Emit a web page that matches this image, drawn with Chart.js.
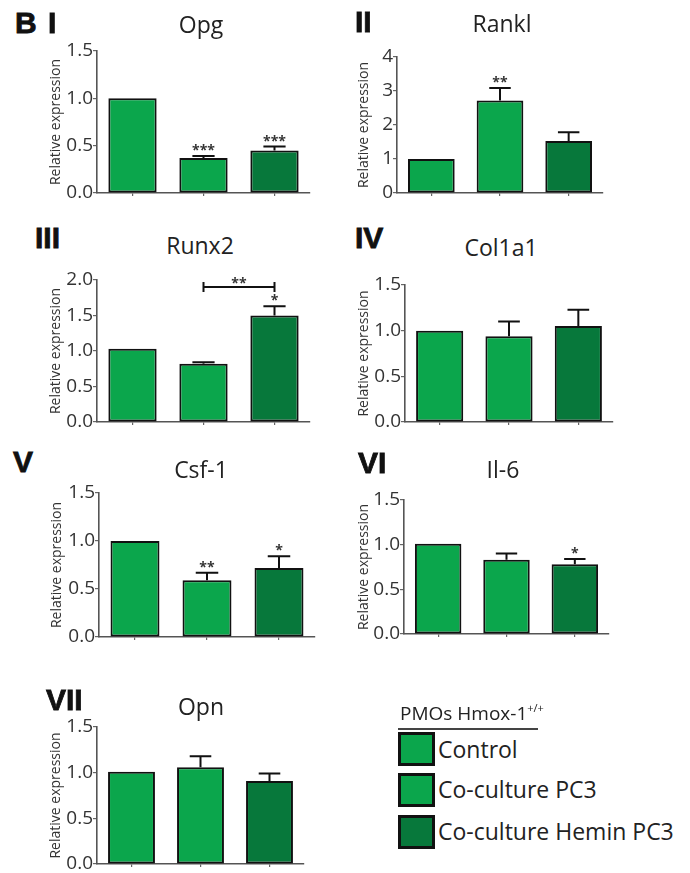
<!DOCTYPE html>
<html>
<head>
<meta charset="utf-8">
<script src="https://cdn.jsdelivr.net/npm/chart.js@4.4.1/dist/chart.umd.min.js"></script>
<style>
  html, body { margin: 0; padding: 0; background: #fff; }
  body { width: 690px; height: 873px; position: relative; overflow: hidden; }
  .panel { position: absolute; }
  .panel canvas { display: block; }
  .num { position: absolute; font-family: "Liberation Sans"; font-weight: bold; font-size: 30px;
         line-height: 1; color: #111; white-space: nowrap; -webkit-text-stroke: 0.8px #111; }
  .gene { position: absolute; font-family: "Open Sans"; font-size: 23px; line-height: 1;
          color: #222; width: 200px; text-align: center; white-space: nowrap; }
  .lg-title { position: absolute; font-family: "Open Sans"; font-size: 19px; line-height: 1;
              color: #222; white-space: nowrap; }
  .lg-title span { font-size: 11px; position: relative; top: -8px; }
  .lg-rule { position: absolute; height: 2px; background: #444; }
  .lg-box { position: absolute; width: 37px; height: 34px; box-sizing: border-box; border: 3px solid #111; }
  .lg-text { position: absolute; font-family: "Open Sans"; font-size: 23px; line-height: 1;
             color: #222; white-space: nowrap; }
</style>
</head>
<body>
<script>
// Groups and colours
const groups = ['Control', 'Co-culture PC3', 'Co-culture Hemin PC3'];
const barColors = ['#0ba64c', '#0ba64c', '#07783b'];

// Tick values for the y axes
const ticks15 = [0, 0.5, 1.0, 1.5];
const ticks20 = [0, 0.5, 1.0, 1.5, 2.0];
const ticks4 = [0, 1, 2, 3, 4];

// Relative expression (mean), error (SEM) and significance marks per gene
const opgValues = [1.00, 0.37, 0.45];
const opgErrors = [0, 0.02, 0.04];
const opgMarks = ['', '***', '***'];

const ranklValues = [1.00, 2.72, 1.53];
const ranklErrors = [0, 0.37, 0.26];
const ranklMarks = ['', '**', ''];

const runx2Values = [1.03, 0.82, 1.50];
const runx2Errors = [0, 0.02, 0.13];
const runx2Marks = ['', '', '*'];
const runx2Bracket = { from: 1, to: 2, value: 1.9, mark: '**' };

const col1a1Values = [1.00, 0.94, 1.05];
const col1a1Errors = [0, 0.16, 0.18];
const col1a1Marks = ['', '', ''];

const csf1Values = [1.00, 0.59, 0.72];
const csf1Errors = [0, 0.08, 0.12];
const csf1Marks = ['', '**', '*'];

const il6Values = [1.01, 0.83, 0.78];
const il6Errors = [0, 0.07, 0.06];
const il6Marks = ['', '', '*'];

const opnValues = [1.01, 1.06, 0.91];
const opnErrors = [0, 0.12, 0.08];
const opnMarks = ['', '', ''];

// Panel layout: plot area [left, top, right, bottom] in page pixels
const panels = [
  { num: 'I',   gene: 'Opg',    values: opgValues,    errors: opgErrors,    marks: opgMarks,    ticks: ticks15, dec: 1, area: [97, 51, 310, 193],  gap: 41 },
  { num: 'II',  gene: 'Rankl',  values: ranklValues,  errors: ranklErrors,  marks: ranklMarks,  ticks: ticks4,  dec: 0, area: [397, 57, 603, 193], gap: 33 },
  { num: 'III', gene: 'Runx2',  values: runx2Values,  errors: runx2Errors,  marks: runx2Marks,  ticks: ticks20, dec: 1, area: [97, 280, 310, 422], gap: 41, bracket: runx2Bracket },
  { num: 'IV',  gene: 'Col1a1', values: col1a1Values, errors: col1a1Errors, marks: col1a1Marks, ticks: ticks15, dec: 1, area: [405, 285, 613, 422], gap: 41 },
  { num: 'V',   gene: 'Csf-1',  values: csf1Values,   errors: csf1Errors,   marks: csf1Marks,   ticks: ticks15, dec: 1, area: [99, 493, 315, 637], gap: 42 },
  { num: 'VI',  gene: 'Il-6',   values: il6Values,    errors: il6Errors,    marks: il6Marks,    ticks: ticks15, dec: 1, area: [404, 500, 609, 634], gap: 40 },
  { num: 'VII', gene: 'Opn',    values: opnValues,    errors: opnErrors,    marks: opnMarks,    ticks: ticks15, dec: 1, area: [97, 727, 304, 864], gap: 41 }
];

// Label placement: [left, baseline] for numerals, [centre x, baseline] for gene names
const numPos = { 'I': [48, 33], 'II': [355, 32], 'III': [35, 248], 'IV': [355, 248], 'V': [13, 472], 'VI': [358, 473], 'VII': [46, 710] };
const genePos = { 'Opg': [201, 33], 'Rankl': [502, 32], 'Runx2': [200, 254], 'Col1a1': [501, 256], 'Csf-1': [201, 478], 'Il-6': [503, 478], 'Opn': [201, 715] };

// Error bars, significance asterisks and comparison bracket
const errorBarPlugin = {
  id: 'errorBars',
  afterDatasetsDraw(chart) {
    const ds = chart.data.datasets[0];
    const meta = chart.getDatasetMeta(0);
    const y = chart.scales.y;
    const ctx = chart.ctx;
    ctx.save();
    ctx.strokeStyle = '#111';
    ctx.lineWidth = 2;
    meta.data.forEach((bar, i) => {
      const e = ds.errors[i];
      if (!e) return;
      const top = y.getPixelForValue(ds.data[i] + e);
      const half = bar.width * 0.23;
      ctx.beginPath();
      ctx.moveTo(bar.x, bar.y);
      ctx.lineTo(bar.x, top);
      ctx.moveTo(bar.x - half, top);
      ctx.lineTo(bar.x + half, top);
      ctx.stroke();
    });
    ctx.fillStyle = '#333';
    ctx.font = 'bold 14px "Open Sans"';
    ctx.textAlign = 'center';
    ctx.textBaseline = 'alphabetic';
    meta.data.forEach((bar, i) => {
      const m = ds.marks[i];
      if (!m) return;
      const top = y.getPixelForValue(ds.data[i] + (ds.errors[i] || 0));
      ctx.fillText(m, bar.x, top - 1);
    });
    const br = ds.bracket;
    if (br) {
      const x1 = meta.data[br.from].x, x2 = meta.data[br.to].x;
      const by = y.getPixelForValue(br.value);
      ctx.beginPath();
      ctx.moveTo(x1, by); ctx.lineTo(x2, by);
      ctx.moveTo(x1, by - 5); ctx.lineTo(x1, by + 5);
      ctx.moveTo(x2, by - 5); ctx.lineTo(x2, by + 5);
      ctx.stroke();
      ctx.fillText(br.mark, (x1 + x2) / 2, by + 1);
    }
    ctx.restore();
  }
};

function addText(cls, text, left, top, html) {
  const d = document.createElement('div');
  d.className = cls;
  if (html) d.innerHTML = text; else d.textContent = text;
  d.style.left = left + 'px';
  d.style.top = top + 'px';
  document.body.appendChild(d);
  return d;
}

function makePanel(p) {
  const [L, T, R, B] = p.area;
  const yW = 62, padT = 16, padR = 8, xH = 14;
  const w = R - L + yW + padR, h = B - T + padT + xH;
  const holder = document.createElement('div');
  holder.className = 'panel';
  holder.style.left = (L - yW) + 'px';
  holder.style.top = (T - padT) + 'px';
  const canvas = document.createElement('canvas');
  canvas.width = w; canvas.height = h;
  canvas.style.width = w + 'px'; canvas.style.height = h + 'px';
  holder.appendChild(canvas);
  document.body.appendChild(holder);

  const titleFont = { family: 'Open Sans', size: 14 };
  const titlePad = yW - p.gap - titleFont.size * 1.2 / 2;

  new Chart(canvas, {
    type: 'bar',
    data: {
      labels: groups,
      datasets: [{
        data: p.values,
        errors: p.errors,
        marks: p.marks,
        bracket: p.bracket || null,
        backgroundColor: barColors,
        borderColor: '#111',
        borderWidth: 2,
        borderSkipped: false,
        barPercentage: 0.68,
        categoryPercentage: 1
      }]
    },
    options: {
      responsive: false,
      animation: false,
      devicePixelRatio: 1,
      events: [],
      layout: { padding: { top: padT, right: padR, left: 0, bottom: 0 } },
      plugins: { legend: { display: false }, tooltip: { enabled: false } },
      scales: {
        x: {
          offset: true,
          grid: { display: true, drawOnChartArea: false, drawTicks: true, tickLength: 3, offset: false, color: '#666', lineWidth: 1.2 },
          border: { display: true, color: '#555', width: 1.6 },
          ticks: { display: false },
          afterFit(s) { s.height = xH; }
        },
        y: {
          min: 0,
          max: p.ticks[p.ticks.length - 1],
          afterBuildTicks(s) { s.ticks = p.ticks.map(v => ({ value: v })); },
          grid: { display: true, drawOnChartArea: false, drawTicks: true, tickLength: 4, color: '#666', lineWidth: 1.2 },
          border: { display: true, color: '#555', width: 1.6 },
          ticks: {
            padding: 0,
            color: '#333',
            font: { family: 'Open Sans', size: 19 },
            callback: v => Number(v).toFixed(p.dec)
          },
          title: {
            display: true,
            text: 'Relative expression',
            color: '#333',
            font: titleFont,
            padding: { top: titlePad, bottom: 0 }
          },
          afterFit(s) { s.width = yW; }
        }
      }
    },
    plugins: [errorBarPlugin]
  });

  const np = numPos[p.num];
  addText('num', p.num, np[0], np[1] - 0.8465 * 30);
  const gp = genePos[p.gene];
  addText('gene', p.gene, gp[0] - 100, gp[1] - 0.888 * 23);
}

// Panel letter
addText('num', 'B', 15, 33 - 0.8465 * 30);

panels.forEach(makePanel);

// Legend
addText('lg-title', 'PMOs Hmox-1<span>+/+</span>', 400, 721 - 0.888 * 19, true);
const rule = document.createElement('div');
rule.className = 'lg-rule';
rule.style.left = '398px'; rule.style.top = '728px'; rule.style.width = '140px';
document.body.appendChild(rule);
const legendTops = [732, 773, 815];
const legendBaselines = [758, 798, 840];
groups.forEach((g, i) => {
  const b = document.createElement('div');
  b.className = 'lg-box';
  b.style.left = '398px';
  b.style.top = legendTops[i] + 'px';
  b.style.background = barColors[i];
  document.body.appendChild(b);
  addText('lg-text', g, 438, legendBaselines[i] - 0.888 * 23);
});
</script>
</body>
</html>
